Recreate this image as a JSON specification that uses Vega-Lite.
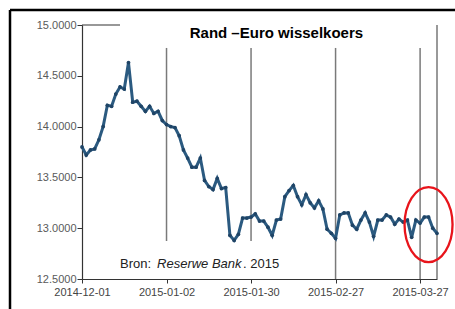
{
  "$schema": "https://vega.github.io/schema/vega-lite/v6.json",
  "width": 355,
  "height": 254,
  "autosize": {"type": "none"},
  "padding": {"left": 82, "top": 25, "right": 18, "bottom": 30},
  "background": "white",
  "config": {
    "view": {"stroke": null},
    "font": "Liberation Sans"
  },
  "data": {
    "values": [
      {"date": "2014-12-01", "rate": 13.80},
      {"date": "2014-12-02", "rate": 13.72},
      {"date": "2014-12-03", "rate": 13.77},
      {"date": "2014-12-04", "rate": 13.78},
      {"date": "2014-12-05", "rate": 13.87},
      {"date": "2014-12-08", "rate": 14.00},
      {"date": "2014-12-09", "rate": 14.21},
      {"date": "2014-12-10", "rate": 14.20},
      {"date": "2014-12-11", "rate": 14.32},
      {"date": "2014-12-12", "rate": 14.39},
      {"date": "2014-12-15", "rate": 14.37},
      {"date": "2014-12-17", "rate": 14.63},
      {"date": "2014-12-18", "rate": 14.24},
      {"date": "2014-12-19", "rate": 14.25},
      {"date": "2014-12-22", "rate": 14.20},
      {"date": "2014-12-23", "rate": 14.15},
      {"date": "2014-12-24", "rate": 14.20},
      {"date": "2014-12-29", "rate": 14.13},
      {"date": "2014-12-30", "rate": 14.15},
      {"date": "2014-12-31", "rate": 14.06},
      {"date": "2015-01-02", "rate": 14.02},
      {"date": "2015-01-05", "rate": 14.00},
      {"date": "2015-01-06", "rate": 13.99},
      {"date": "2015-01-07", "rate": 13.91},
      {"date": "2015-01-08", "rate": 13.77},
      {"date": "2015-01-09", "rate": 13.69},
      {"date": "2015-01-12", "rate": 13.60},
      {"date": "2015-01-13", "rate": 13.60},
      {"date": "2015-01-14", "rate": 13.69},
      {"date": "2015-01-15", "rate": 13.47},
      {"date": "2015-01-16", "rate": 13.41},
      {"date": "2015-01-19", "rate": 13.38},
      {"date": "2015-01-20", "rate": 13.49},
      {"date": "2015-01-21", "rate": 13.39},
      {"date": "2015-01-22", "rate": 13.40},
      {"date": "2015-01-23", "rate": 12.93},
      {"date": "2015-01-26", "rate": 12.88},
      {"date": "2015-01-27", "rate": 12.94},
      {"date": "2015-01-28", "rate": 13.10},
      {"date": "2015-01-29", "rate": 13.10},
      {"date": "2015-01-30", "rate": 13.11},
      {"date": "2015-02-02", "rate": 13.14},
      {"date": "2015-02-03", "rate": 13.07},
      {"date": "2015-02-04", "rate": 13.07},
      {"date": "2015-02-05", "rate": 13.01},
      {"date": "2015-02-06", "rate": 12.93},
      {"date": "2015-02-09", "rate": 13.08},
      {"date": "2015-02-10", "rate": 13.09},
      {"date": "2015-02-11", "rate": 13.31},
      {"date": "2015-02-12", "rate": 13.37},
      {"date": "2015-02-13", "rate": 13.42},
      {"date": "2015-02-16", "rate": 13.31},
      {"date": "2015-02-17", "rate": 13.23},
      {"date": "2015-02-18", "rate": 13.33},
      {"date": "2015-02-19", "rate": 13.25},
      {"date": "2015-02-20", "rate": 13.20},
      {"date": "2015-02-23", "rate": 13.27},
      {"date": "2015-02-24", "rate": 13.19},
      {"date": "2015-02-25", "rate": 12.99},
      {"date": "2015-02-26", "rate": 12.95},
      {"date": "2015-02-27", "rate": 12.90},
      {"date": "2015-03-02", "rate": 13.13},
      {"date": "2015-03-03", "rate": 13.15},
      {"date": "2015-03-04", "rate": 13.15},
      {"date": "2015-03-05", "rate": 13.03},
      {"date": "2015-03-06", "rate": 12.99},
      {"date": "2015-03-09", "rate": 13.08},
      {"date": "2015-03-10", "rate": 13.15},
      {"date": "2015-03-11", "rate": 13.06},
      {"date": "2015-03-12", "rate": 12.92},
      {"date": "2015-03-13", "rate": 13.08},
      {"date": "2015-03-16", "rate": 13.08},
      {"date": "2015-03-17", "rate": 13.13},
      {"date": "2015-03-18", "rate": 13.11},
      {"date": "2015-03-19", "rate": 13.04},
      {"date": "2015-03-20", "rate": 13.09},
      {"date": "2015-03-23", "rate": 13.06},
      {"date": "2015-03-24", "rate": 13.08},
      {"date": "2015-03-25", "rate": 12.91},
      {"date": "2015-03-26", "rate": 13.08},
      {"date": "2015-03-27", "rate": 13.05},
      {"date": "2015-03-30", "rate": 13.11},
      {"date": "2015-03-31", "rate": 13.11},
      {"date": "2015-04-01", "rate": 13.00},
      {"date": "2015-04-02", "rate": 12.95}
    ]
  },
  "encoding": {
    "x": {
      "field": "date",
      "type": "ordinal",
      "scale": {"type": "point", "padding": 0},
      "axis": {
        "title": null,
        "values": ["2014-12-01", "2015-01-02", "2015-01-30", "2015-02-27", "2015-03-27"],
        "labelAngle": 0,
        "labelFontSize": 11,
        "labelColor": "#444444",
        "labelPadding": 3,
        "tickSize": 4,
        "tickColor": "#333333",
        "domainColor": "#333333",
        "domainWidth": 1.2,
        "grid": false,
        "labelOverlap": false,
        "labelBound": false
      }
    },
    "y": {
      "field": "rate",
      "type": "quantitative",
      "scale": {"domain": [12.5, 15], "nice": false, "zero": false},
      "axis": {
        "title": null,
        "values": [12.5, 13, 13.5, 14, 14.5, 15],
        "format": ".4f",
        "labelFontSize": 11,
        "labelColor": "#5a5a5a",
        "labelPadding": 1,
        "tickSize": 5,
        "tickColor": "#333333",
        "domainColor": "#333333",
        "domainWidth": 1.2,
        "grid": false
      }
    }
  },
  "layer": [
    {
      "transform": [{"filter": {"field": "date", "oneOf": ["2015-01-02", "2015-01-30"]}}],
      "mark": {"type": "rule", "color": "#7a7a7a", "strokeWidth": 1.5},
      "encoding": {
        "x": {"field": "date", "type": "ordinal"},
        "y": {"datum": 12.874},
        "y2": {"datum": 14.774}
      }
    },
    {
      "transform": [{"filter": {"field": "date", "oneOf": ["2015-02-27", "2015-03-27"]}}],
      "mark": {"type": "rule", "color": "#7a7a7a", "strokeWidth": 1.5},
      "encoding": {
        "x": {"field": "date", "type": "ordinal"},
        "y": {"datum": 12.5},
        "y2": {"datum": 14.774}
      }
    },
    {
      "transform": [{"filter": {"field": "date", "equal": "2014-12-01"}}],
      "mark": {"type": "rule", "color": "#555555", "strokeWidth": 1.2},
      "encoding": {
        "x": {"datum": "2015-04-02"},
        "y": {"datum": 12.5},
        "y2": {"datum": 15}
      }
    },
    {
      "transform": [{"filter": {"field": "date", "equal": "2014-12-01"}}],
      "mark": {"type": "rule", "color": "#333333", "strokeWidth": 1.2},
      "encoding": {
        "x": {"datum": "2014-12-01"},
        "x2": {"datum": "2014-12-12"},
        "y": {"datum": 15}
      }
    },
    {
      "transform": [{"filter": {"field": "date", "equal": "2014-12-01"}}],
      "mark": {"type": "rule", "color": "#000000", "strokeWidth": 2.5, "clip": false, "xOffset": -72, "x2Offset": 18},
      "encoding": {
        "x": {"datum": "2014-12-01"},
        "x2": {"datum": "2015-04-02"},
        "y": {"datum": 15.1476}
      }
    },
    {
      "transform": [{"filter": {"field": "date", "equal": "2014-12-01"}}],
      "mark": {"type": "rule", "color": "#000000", "strokeWidth": 2.5, "clip": false, "xOffset": -72, "y2Offset": 30},
      "encoding": {
        "x": {"datum": "2014-12-01"},
        "y": {"datum": 15.1476},
        "y2": {"datum": 12.5}
      }
    },
    {
      "mark": {
        "type": "line",
        "color": "#2b5a80",
        "strokeWidth": 3,
        "point": {"filled": true, "size": 14, "color": "#1f4466"}
      }
    },
    {
      "transform": [{"filter": {"field": "date", "equal": "2014-12-01"}}],
      "mark": {"type": "text", "text": "Rand \u2013Euro wisselkoers", "font": "Liberation Sans", "fontSize": 15, "fontWeight": "bold", "align": "center", "baseline": "alphabetic", "color": "#000000"},
      "encoding": {
        "x": {"datum": "2015-02-09"},
        "y": {"datum": 14.875}
      }
    },
    {
      "transform": [{"filter": {"field": "date", "equal": "2014-12-01"}}],
      "mark": {"type": "text", "text": "Bron:", "font": "Liberation Sans", "fontSize": 13, "align": "left", "baseline": "alphabetic", "color": "#222222"},
      "encoding": {
        "x": {"datum": "2014-12-12"},
        "y": {"datum": 12.608}
      }
    },
    {
      "transform": [{"filter": {"field": "date", "equal": "2014-12-01"}}],
      "mark": {"type": "text", "text": "Reserwe Bank", "font": "Liberation Sans", "fontSize": 13, "fontStyle": "italic", "align": "left", "baseline": "alphabetic", "color": "#222222", "dx": 37},
      "encoding": {
        "x": {"datum": "2014-12-12"},
        "y": {"datum": 12.608}
      }
    },
    {
      "transform": [{"filter": {"field": "date", "equal": "2014-12-01"}}],
      "mark": {"type": "text", "text": ". 2015", "font": "Liberation Sans", "fontSize": 13, "align": "left", "baseline": "alphabetic", "color": "#222222", "dx": 123},
      "encoding": {
        "x": {"datum": "2014-12-12"},
        "y": {"datum": 12.608}
      }
    },
    {
      "transform": [{"filter": {"field": "date", "equal": "2014-12-01"}}],
      "mark": {
        "type": "point",
        "shape": "M -0.64 0 A 0.64 1 0 1 1 0.64 0 A 0.64 1 0 1 1 -0.64 0 Z",
        "size": 5625,
        "filled": false,
        "stroke": "#e8141b",
        "strokeWidth": 2.3,
        "opacity": 1,
        "clip": false
      },
      "encoding": {
        "x": {"datum": "2015-03-31"},
        "y": {"datum": 13.036}
      }
    }
  ]
}
